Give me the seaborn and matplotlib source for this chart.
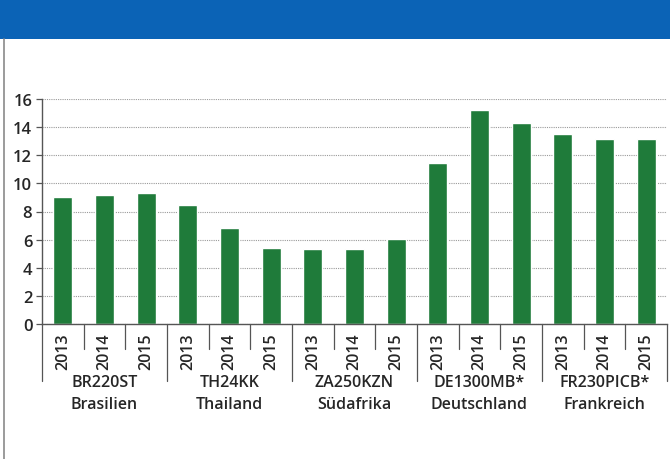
import numpy as np
import pandas as pd
import matplotlib
matplotlib.use("Agg")
import matplotlib.pyplot as plt
import matplotlib.transforms as mtransforms
from matplotlib.patches import Rectangle
from matplotlib.lines import Line2D
import seaborn as sns

# Sites, countries and yearly values
sites = ["BR220ST", "TH24KK", "ZA250KZN", "DE1300MB*", "FR230PICB*"]
countries = ["Brasilien", "Thailand", "Südafrika", "Deutschland", "Frankreich"]
years = ["2013", "2014", "2015"]
br220st = [9.0, 9.15, 9.3]
th24kk = [8.45, 6.8, 5.4]
za250kzn = [5.3, 5.3, 6.05]
de1300mb = [11.45, 15.2, 14.3]
fr230picb = [13.5, 13.15, 13.15]
y_ticks = [0, 2, 4, 6, 8, 10, 12, 14, 16]

series = [br220st, th24kk, za250kzn, de1300mb, fr230picb]
rows = []
for site, vals in zip(sites, series):
    for yr, v in zip(years, vals):
        rows.append({"slot": f"{site}|{yr}", "site": site, "year": yr, "value": v})
df = pd.DataFrame(rows)

sns.set_theme(style="white")
plt.rcParams["font.family"] = ["Open Sans", "DejaVu Sans"]

GREEN = "#1f7b3a"
BLUE = "#0b63b6"
TEXT = "#262626"
WEIGHT = "semibold"

fig = plt.figure(figsize=(6.7, 4.6), dpi=100)
fig.patch.set_facecolor("white")

# header band and left frame line
fig.add_artist(Rectangle((0, 1 - 40 / 460), 1, 40 / 460, transform=fig.transFigure,
                         facecolor=BLUE, edgecolor="none"))
fig.add_artist(Line2D([4 / 670, 4 / 670], [0, 1 - 40 / 460], transform=fig.transFigure,
                      color="#8a8a8a", lw=1.2))

ax = fig.add_axes([42 / 670, 1 - 325 / 460, (667 - 42) / 670, (325 - 100) / 460])

order = list(df["slot"])
sns.barplot(data=df, x="slot", y="value", order=order, color=GREEN,
            width=0.45, saturation=1, ax=ax, errorbar=None)

ax.set_ylim(0, 16)
ax.set_xlim(-0.5, len(order) - 0.5)
ax.set_yticks(y_ticks)
ax.set_yticklabels([str(t) for t in y_ticks], fontsize=12, color=TEXT, fontweight=WEIGHT)
ax.yaxis.grid(True, linestyle=(0, (1, 1)), color="#9a9a9a", lw=0.8)
ax.set_axisbelow(True)
ax.set_xlabel("")
ax.set_ylabel("")

for s in ["top", "right"]:
    ax.spines[s].set_visible(False)
for s in ["left", "bottom"]:
    ax.spines[s].set_color("#555555")
    ax.spines[s].set_linewidth(1.0)

ax.tick_params(axis="y", which="major", left=True, length=4, width=0.9,
               color="#555555", pad=3)
ax.set_xticks(range(len(order)))
ax.set_xticklabels(list(df["year"]), rotation=90, fontsize=11.5, color=TEXT,
                   fontweight=WEIGHT)
ax.tick_params(axis="x", length=0, pad=6)

# separators below the axis: short between years, long between sites
trans = mtransforms.blended_transform_factory(ax.transData, ax.transAxes)
px = 1 / (325 - 100)
for i in range(len(order) + 1):
    x = i - 0.5
    long_sep = i % len(years) == 0
    depth = (382 - 325) * px if long_sep else (350 - 325) * px
    ax.plot([x, x], [0, -depth], transform=trans, color="#555555", lw=0.9,
            clip_on=False)

for k, (site, country) in enumerate(zip(sites, countries)):
    xc = k * len(years) + (len(years) - 1) / 2
    ax.text(xc, -(383 - 325) * px, site, transform=trans, ha="center", va="center",
            fontsize=11.5, color=TEXT, fontweight=WEIGHT)
    ax.text(xc, -(405 - 325) * px, country, transform=trans, ha="center", va="center",
            fontsize=11.5, color=TEXT, fontweight=WEIGHT)

fig.savefig("out.png", dpi=100)
